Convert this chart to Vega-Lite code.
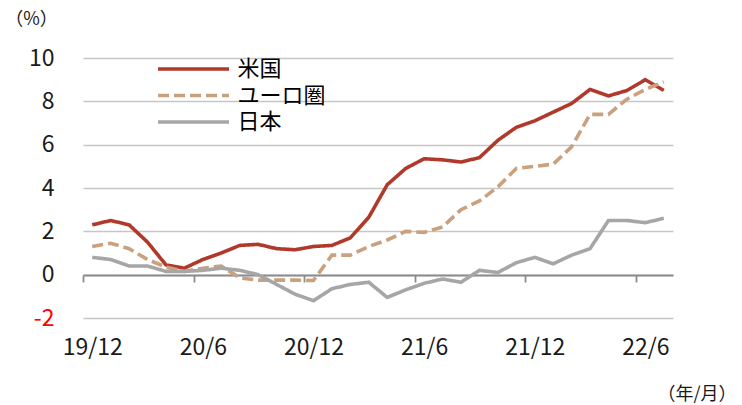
{
  "$schema": "https://vega.github.io/schema/vega-lite/v6.json",
  "autosize": "none",
  "width": 590,
  "height": 260,
  "padding": {"left": 83, "top": 58, "right": 69, "bottom": 87},
  "background": "white",
  "config": {
    "view": {"stroke": null},
    "font": "Noto Sans CJK JP"
  },
  "data": {
    "values": [
      {"month": "19/12", "series": "米国", "value": 2.3},
      {"month": "20/1", "series": "米国", "value": 2.5},
      {"month": "20/2", "series": "米国", "value": 2.3},
      {"month": "20/3", "series": "米国", "value": 1.5},
      {"month": "20/4", "series": "米国", "value": 0.45},
      {"month": "20/5", "series": "米国", "value": 0.3},
      {"month": "20/6", "series": "米国", "value": 0.7},
      {"month": "20/7", "series": "米国", "value": 1.0},
      {"month": "20/8", "series": "米国", "value": 1.35},
      {"month": "20/9", "series": "米国", "value": 1.4},
      {"month": "20/10", "series": "米国", "value": 1.2},
      {"month": "20/11", "series": "米国", "value": 1.15},
      {"month": "20/12", "series": "米国", "value": 1.3},
      {"month": "21/1", "series": "米国", "value": 1.35},
      {"month": "21/2", "series": "米国", "value": 1.7},
      {"month": "21/3", "series": "米国", "value": 2.65},
      {"month": "21/4", "series": "米国", "value": 4.15},
      {"month": "21/5", "series": "米国", "value": 4.9},
      {"month": "21/6", "series": "米国", "value": 5.35},
      {"month": "21/7", "series": "米国", "value": 5.3},
      {"month": "21/8", "series": "米国", "value": 5.2},
      {"month": "21/9", "series": "米国", "value": 5.4},
      {"month": "21/10", "series": "米国", "value": 6.2},
      {"month": "21/11", "series": "米国", "value": 6.8},
      {"month": "21/12", "series": "米国", "value": 7.1},
      {"month": "22/1", "series": "米国", "value": 7.5},
      {"month": "22/2", "series": "米国", "value": 7.9},
      {"month": "22/3", "series": "米国", "value": 8.55},
      {"month": "22/4", "series": "米国", "value": 8.25},
      {"month": "22/5", "series": "米国", "value": 8.5},
      {"month": "22/6", "series": "米国", "value": 9.0},
      {"month": "22/7", "series": "米国", "value": 8.5},
      {"month": "19/12", "series": "ユーロ圏", "value": 1.3},
      {"month": "20/1", "series": "ユーロ圏", "value": 1.45},
      {"month": "20/2", "series": "ユーロ圏", "value": 1.2},
      {"month": "20/3", "series": "ユーロ圏", "value": 0.7},
      {"month": "20/4", "series": "ユーロ圏", "value": 0.35},
      {"month": "20/5", "series": "ユーロ圏", "value": 0.15},
      {"month": "20/6", "series": "ユーロ圏", "value": 0.3},
      {"month": "20/7", "series": "ユーロ圏", "value": 0.4},
      {"month": "20/8", "series": "ユーロ圏", "value": -0.15},
      {"month": "20/9", "series": "ユーロ圏", "value": -0.25},
      {"month": "20/10", "series": "ユーロ圏", "value": -0.25},
      {"month": "20/11", "series": "ユーロ圏", "value": -0.25},
      {"month": "20/12", "series": "ユーロ圏", "value": -0.27},
      {"month": "21/1", "series": "ユーロ圏", "value": 0.9},
      {"month": "21/2", "series": "ユーロ圏", "value": 0.9},
      {"month": "21/3", "series": "ユーロ圏", "value": 1.3},
      {"month": "21/4", "series": "ユーロ圏", "value": 1.6},
      {"month": "21/5", "series": "ユーロ圏", "value": 2.0},
      {"month": "21/6", "series": "ユーロ圏", "value": 1.95},
      {"month": "21/7", "series": "ユーロ圏", "value": 2.2},
      {"month": "21/8", "series": "ユーロ圏", "value": 3.0},
      {"month": "21/9", "series": "ユーロ圏", "value": 3.4},
      {"month": "21/10", "series": "ユーロ圏", "value": 4.05},
      {"month": "21/11", "series": "ユーロ圏", "value": 4.9},
      {"month": "21/12", "series": "ユーロ圏", "value": 5.0},
      {"month": "22/1", "series": "ユーロ圏", "value": 5.1},
      {"month": "22/2", "series": "ユーロ圏", "value": 5.9},
      {"month": "22/3", "series": "ユーロ圏", "value": 7.4},
      {"month": "22/4", "series": "ユーロ圏", "value": 7.4},
      {"month": "22/5", "series": "ユーロ圏", "value": 8.1},
      {"month": "22/6", "series": "ユーロ圏", "value": 8.55},
      {"month": "22/7", "series": "ユーロ圏", "value": 8.9},
      {"month": "19/12", "series": "日本", "value": 0.8},
      {"month": "20/1", "series": "日本", "value": 0.7},
      {"month": "20/2", "series": "日本", "value": 0.4},
      {"month": "20/3", "series": "日本", "value": 0.4},
      {"month": "20/4", "series": "日本", "value": 0.15},
      {"month": "20/5", "series": "日本", "value": 0.15},
      {"month": "20/6", "series": "日本", "value": 0.2},
      {"month": "20/7", "series": "日本", "value": 0.3},
      {"month": "20/8", "series": "日本", "value": 0.2},
      {"month": "20/9", "series": "日本", "value": 0.0},
      {"month": "20/10", "series": "日本", "value": -0.45},
      {"month": "20/11", "series": "日本", "value": -0.9},
      {"month": "20/12", "series": "日本", "value": -1.2},
      {"month": "21/1", "series": "日本", "value": -0.65},
      {"month": "21/2", "series": "日本", "value": -0.45},
      {"month": "21/3", "series": "日本", "value": -0.35},
      {"month": "21/4", "series": "日本", "value": -1.05},
      {"month": "21/5", "series": "日本", "value": -0.7},
      {"month": "21/6", "series": "日本", "value": -0.4},
      {"month": "21/7", "series": "日本", "value": -0.2},
      {"month": "21/8", "series": "日本", "value": -0.35},
      {"month": "21/9", "series": "日本", "value": 0.2},
      {"month": "21/10", "series": "日本", "value": 0.1},
      {"month": "21/11", "series": "日本", "value": 0.55},
      {"month": "21/12", "series": "日本", "value": 0.8},
      {"month": "22/1", "series": "日本", "value": 0.5},
      {"month": "22/2", "series": "日本", "value": 0.9},
      {"month": "22/3", "series": "日本", "value": 1.2},
      {"month": "22/4", "series": "日本", "value": 2.5},
      {"month": "22/5", "series": "日本", "value": 2.5},
      {"month": "22/6", "series": "日本", "value": 2.4},
      {"month": "22/7", "series": "日本", "value": 2.6}
    ]
  },
  "mark": {"type": "line", "strokeWidth": 3.6, "strokeJoin": "miter"},
  "encoding": {
    "x": {
      "field": "month",
      "type": "ordinal",
      "sort": null,
      "scale": {"type": "point", "padding": 0.5},
      "axis": {
        "orient": "bottom",
        "offset": -43,
        "values": ["19/12", "20/6", "20/12", "21/6", "21/12", "22/6"],
        "labelAngle": 0,
        "tickOffset": -9.22,
        "labelOffset": 9.22,
        "tickSize": 7,
        "tickColor": "#8c8c8c",
        "tickWidth": 1.8,
        "domainColor": "#8c8c8c",
        "domainWidth": 1.8,
        "labelFont": "Noto Sans CJK JP",
        "labelFontSize": 23,
        "labelColor": "#1a1a1a",
        "labelPadding": 54,
        "grid": false,
        "title": "（年/月）",
        "titleFont": "Noto Sans CJK JP",
        "titleFontSize": 18,
        "titleFontWeight": "normal",
        "titleColor": "#1a1a1a",
        "titleAlign": "right",
        "titleBaseline": "middle",
        "titleAnchor": null,
        "titleX": 653,
        "titleY": 119
      }
    },
    "y": {
      "field": "value",
      "type": "quantitative",
      "scale": {"domain": [-2, 10], "nice": false, "zero": false},
      "axis": {
        "values": [-2, 0, 2, 4, 6, 8, 10],
        "ticks": false,
        "domain": false,
        "grid": true,
        "gridColor": "#c6c6c6",
        "gridWidth": 1.5,
        "labelFont": "Noto Sans CJK JP",
        "labelFontSize": 23,
        "labelExpr": "datum.value < 0 ? '-' + abs(datum.value) : datum.label",
        "labelColor": {"expr": "datum.value < 0 ? '#ff0000' : '#1a1a1a'"},
        "labelPadding": 29,
        "title": "（%）",
        "titleFont": "Noto Sans CJK JP",
        "titleFontSize": 18,
        "titleFontWeight": "normal",
        "titleColor": "#1a1a1a",
        "titleAngle": 0,
        "titleAlign": "center",
        "titleBaseline": "middle",
        "titleAnchor": null,
        "titleX": -52,
        "titleY": -39
      }
    },
    "color": {
      "field": "series",
      "type": "nominal",
      "scale": {"domain": ["米国", "ユーロ圏", "日本"], "range": ["#b0392b", "#c9a17e", "#a6a6a6"]},
      "legend": {
        "orient": "none",
        "legendX": 75,
        "legendY": -1,
        "title": null,
        "padding": 0,
        "symbolType": "M-3.55,0H3.55",
        "symbolSize": 400,
        "symbolStrokeWidth": 3.7,
        "symbolOffset": 23.5,
        "labelOffset": 32,
        "rowPadding": 3.5,
        "labelFont": "Noto Sans CJK JP",
        "labelFontSize": 22,
        "labelColor": "#000000",
        "labelLimit": 300
      }
    },
    "strokeDash": {
      "field": "series",
      "type": "nominal",
      "scale": {"domain": ["米国", "ユーロ圏", "日本"], "range": [[1, 0], [11, 5], [1, 0]]},
      "legend": {
        "orient": "none",
        "legendX": 75,
        "legendY": -1,
        "title": null,
        "padding": 0,
        "symbolType": "M-3.55,0H3.55",
        "symbolSize": 400,
        "symbolStrokeWidth": 3.7,
        "symbolOffset": 23.5,
        "labelOffset": 32,
        "rowPadding": 3.5,
        "labelFont": "Noto Sans CJK JP",
        "labelFontSize": 22,
        "labelColor": "#000000",
        "labelLimit": 300
      }
    }
  }
}
